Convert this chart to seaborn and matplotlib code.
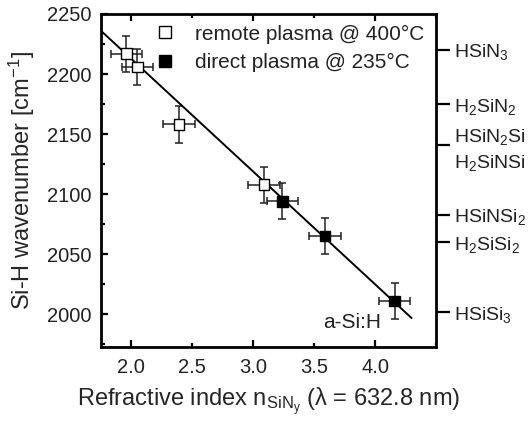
import numpy as np
import pandas as pd
import matplotlib
matplotlib.use("Agg")
import matplotlib.pyplot as plt
import seaborn as sns

# data
remote_n = [1.96, 2.05, 2.39, 3.09]
remote_wn = [2217, 2206, 2158, 2108]
direct_n = [3.24, 3.59, 4.16]
direct_wn = [2094, 2065, 2011]
n_err = 0.13
wn_err = 15

fit_n = [1.75, 4.30]
fit_wn = [2236, 1997]

bond_pos = [2220, 2175, 2141, 2083, 2060, 2002]
bond_labels = ["HSiN$_3$", "H$_2$SiN$_2$", "HSiN$_2$Si\nH$_2$SiNSi",
               "HSiNSi$_2$", "H$_2$SiSi$_2$", "HSiSi$_3$"]

sns.set_style("ticks")
plt.rcParams["font.family"] = ["Liberation Sans", "DejaVu Sans"]
plt.rcParams["mathtext.fontset"] = "custom"
plt.rcParams["mathtext.rm"] = "Liberation Sans"
plt.rcParams["mathtext.it"] = "Liberation Sans:italic"
plt.rcParams["mathtext.bf"] = "Liberation Sans:bold"
plt.rcParams["text.color"] = "#222222"

df = pd.DataFrame({
    "n": remote_n + direct_n,
    "wn": remote_wn + direct_wn,
    "series": ["remote plasma @ 400°C"] * len(remote_n) + ["direct plasma @ 235°C"] * len(direct_n),
})

fig = plt.figure(figsize=(5.31, 4.21), dpi=100)
ax = fig.add_axes([0.190, 0.176, 0.631, 0.791])

# error bars below the markers
ax.errorbar(df["n"], df["wn"], xerr=n_err, yerr=wn_err, fmt="none",
            ecolor="#222222", elinewidth=1.1, capsize=3, capthick=1.1, zorder=2)

sns.lineplot(x=fit_n, y=fit_wn, color="black", linewidth=1.4, ax=ax, zorder=3)

sns.scatterplot(data=df, x="n", y="wn", hue="series", style="series",
                markers={"remote plasma @ 400°C": "s", "direct plasma @ 235°C": "s"},
                palette={"remote plasma @ 400°C": "white", "direct plasma @ 235°C": "black"},
                edgecolor="black", linewidth=1.0, s=55, ax=ax, zorder=4)

ax.set_xlim(1.75, 4.5)
ax.set_ylim(1973, 2250)

leg = ax.legend(loc="upper left", bbox_to_anchor=(0.16, 0.968), frameon=False,
                borderaxespad=0, borderpad=0, handlelength=1.0, fontsize=15,
                handletextpad=0.95, labelspacing=0.45, markerscale=1.1)
for h in leg.legend_handles:
    h.set_markeredgecolor("black")

ax.text(3.81, 1993, "a-Si:H", fontsize=15, ha="center", va="center")

ax.xaxis.set_major_locator(matplotlib.ticker.MultipleLocator(1.0))
ax.xaxis.set_minor_locator(matplotlib.ticker.MultipleLocator(0.5))
ax.xaxis.set_major_formatter(matplotlib.ticker.FormatStrFormatter("%.1f"))
ax.xaxis.set_minor_formatter(matplotlib.ticker.FuncFormatter(
    lambda v, p: "%.1f" % v if abs(v - round(v)) > 0.1 and v < 4.4 else ""))
ax.yaxis.set_major_locator(matplotlib.ticker.MultipleLocator(50))
ax.yaxis.set_minor_locator(matplotlib.ticker.MultipleLocator(25))

ax.tick_params(which="both", direction="in", top=True, right=True, labelsize=14.5,
               width=1.6, colors="black", labelcolor="#222222")
ax.tick_params(which="major", length=5)
ax.tick_params(which="minor", length=3)
ax.tick_params(axis="x", which="both", pad=8)
ax.tick_params(axis="y", which="both", pad=7)

for s in ax.spines.values():
    s.set_linewidth(2.0)
    s.set_color("black")

ax.set_xlabel("Refractive index n$_{\\mathrm{SiN_y}}$ (λ = 632.8 nm)", fontsize=17, labelpad=6)
ax.set_ylabel("Si-H wavenumber [cm$^{-1}$]", fontsize=17, labelpad=7)

ax2 = ax.twinx()
ax2.set_ylim(ax.get_ylim())
ax2.set_yticks(bond_pos)
ax2.set_yticklabels(bond_labels, fontsize=14, linespacing=1.35)
ax2.tick_params(axis="y", direction="out", length=10, width=1.6, pad=3, colors="black",
                labelcolor="#222222")
ax2.yaxis.set_minor_locator(matplotlib.ticker.NullLocator())
for s in ax2.spines.values():
    s.set_visible(False)

fig.savefig("out.png", dpi=100)
